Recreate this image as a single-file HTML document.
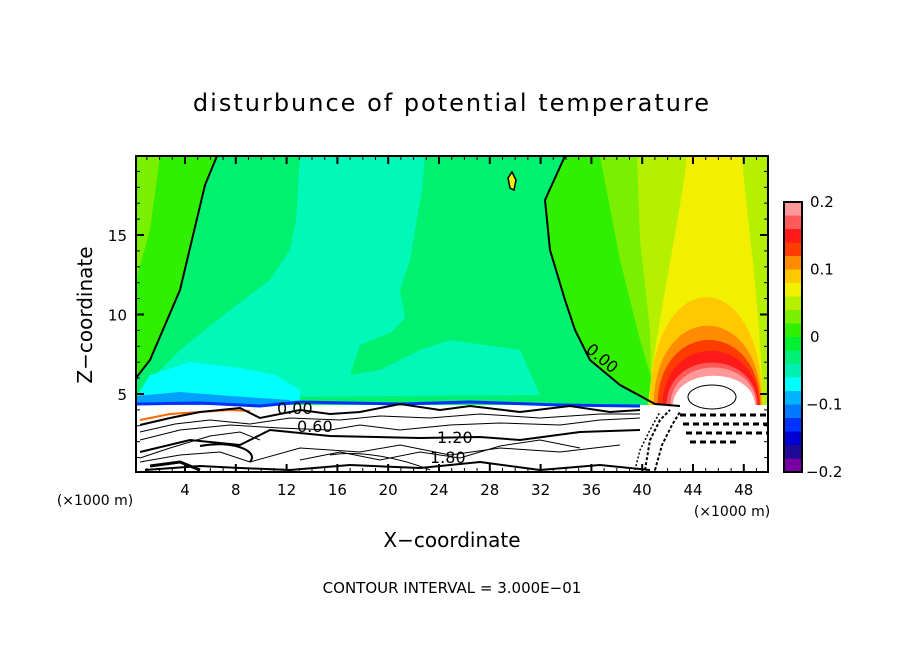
<!DOCTYPE html>
<html><head><meta charset="utf-8"><style>
body{margin:0;background:#fff;}
svg text{font-family:"DejaVu Sans","Liberation Sans",sans-serif;fill:#000;}
</style></head><body>
<svg id="c" width="904" height="654" viewBox="0 0 904 654" xmlns="http://www.w3.org/2000/svg">
<defs><clipPath id="pc"><rect x="136" y="156" width="632" height="316"/></clipPath></defs>
<text x="452" y="111" text-anchor="middle" font-size="24" letter-spacing="2">disturbunce of potential temperature</text>
<g id="plot" clip-path="url(#pc)">
<rect x="136" y="156" width="632" height="316" fill="#00f070"/>
<path d="M136 156 L217 156 L205 185 L180 290 L150 360 L136 378 Z" fill="#30f000"/>
<path d="M136 156 L160 156 L150 230 L136 280 Z" fill="#78f000"/>
<path d="M300 156 L425 156 L422 190 L410 260 L400 290 L405 318 L392 332 L360 345 L350 375 L380 370 L420 350 L450 340 L520 350 L540 395 L136 398 L150 380 L180 350 L230 310 L270 280 L290 250 L296 220 Z" fill="#00f8b8"/>
<path d="M136 398 L150 375 L190 362 L240 368 L275 375 L300 390 L300 404 L136 404 Z" fill="#00ffff"/>
<path d="M136 396 L180 392 L230 396 L290 400 L290 406 L136 406 Z" fill="#00a0ff"/>
<path d="M565 156 L545 200 L550 250 L565 300 L575 330 L590 360 L620 385 L655 407 L768 407 L768 156 Z" fill="#30f000"/>
<path d="M600 156 L620 260 L640 340 L660 407 L768 407 L768 156 Z" fill="#78f000"/>
<path d="M637 156 L640 240 L650 330 L652 407 L768 407 L768 156 Z" fill="#b4f000"/>
<path d="M648 407 C655 330 680 220 687 156 L742 156 C748 230 760 300 763 407 Z" fill="#f0f000"/>
<g id="plume"></g>
<rect x="136" y="405" width="632" height="67" fill="#fff"/>
<path d="M136 404 L200 403 L260 406 L300 402 L400 404 L470 402 L560 405 L640 406" stroke="#0030ff" stroke-width="3" fill="none"/>
<path d="M140 420 L170 414 L200 412 L230 410 L250 411" stroke="#ff6a00" stroke-width="2" fill="none"/>
<g fill="none" stroke="#000">
<path d="M140 425 L170 418 L200 412 L240 408 L260 418 L300 410 L330 414 L360 412 L400 404 L440 410 L470 406 L520 412 L570 406 L610 412 L640 410" stroke-width="2"/>
<path d="M140 432 L175 424 L210 420 L250 424 L290 418 L340 420 L380 416 L430 418 L480 414 L540 418 L600 414 L640 414" stroke-width="1"/>
<path d="M140 440 L180 430 L230 425 L280 428 L330 430 L360 425 L400 430 L450 425 L500 423 L560 425 L600 420 L640 418" stroke-width="1"/>
<path d="M140 452 L190 440 L240 445 L270 430 L330 436 L420 438 L480 437 L520 440 L580 432 L640 430" stroke-width="2"/>
<path d="M140 462 L180 455 L220 452 L250 462 L300 448 L360 452 L400 445 L450 455 L500 448 L560 452 L620 445" stroke-width="1"/>
<path d="M140 458 L170 448 L210 436 L240 432 L260 440" stroke-width="1"/>
<path d="M300 460 L340 452 L380 460 L420 452 L460 458 L500 446 L540 440 L580 448" stroke-width="1"/>
<path d="M145 470 L200 466 L240 468 L290 470 L350 465 L420 468 L480 462 L540 470 L600 465 L650 470" stroke-width="2"/>
<path d="M200 446 C230 440 260 450 250 462" stroke-width="2"/>
<path d="M330 455 C360 450 400 458 430 470" stroke-width="1"/>
<path d="M150 466 L180 462 L200 470" stroke-width="3"/>
<path d="M217 156 L205 185 L180 290 L150 360 L136 378" stroke-width="2"/>
<path d="M565 156 L545 200 L550 250 L565 300 L575 330 L590 360 L620 385 L655 404 L680 406" stroke-width="2"/>
<ellipse cx="712" cy="397" rx="24" ry="12" stroke-width="1"/>
<path d="M508 178 L512 172 L516 180 L514 190 L510 188 Z" fill="#f0f000" stroke-width="1.5"/>
<path d="M645 470 L650 440 L660 420 L670 410" stroke-width="2" stroke-dasharray="3 2"/>
<path d="M655 470 L662 445 L672 425 L680 412" stroke-width="2" stroke-dasharray="3 2"/>
<path d="M635 470 L640 450 L650 430 L660 412" stroke-width="1.5" stroke-dasharray="2 2"/>
</g>
<g fill="none" stroke="#000" stroke-width="3" stroke-dasharray="6 4">
<path d="M680 415 L768 415"/><path d="M683 424 L768 424"/><path d="M686 433 L768 433"/><path d="M690 442 L740 442"/>
</g>
<g font-size="16">
<text x="277" y="414">0.00</text>
<text x="297" y="432">0.60</text>
<text x="437" y="443">1.20</text>
<text x="430" y="463">1.80</text>
<text x="585" y="351" transform="rotate(40 585 351)">0.00</text>
</g>
</g>
<rect x="136" y="156" width="632" height="316" fill="none" stroke="#000" stroke-width="2"/>
<g id="ticks"></g>
<g id="cbar"></g>
<text x="95" y="505" text-anchor="middle" font-size="14">(×1000 m)</text>
<text x="732" y="516" text-anchor="middle" font-size="14">(×1000 m)</text>
<text x="452" y="547" text-anchor="middle" font-size="20">X−coordinate</text>
<text x="92" y="315" text-anchor="middle" font-size="20" transform="rotate(-90 92 315)">Z−coordinate</text>
<text x="452" y="593" text-anchor="middle" font-size="15">CONTOUR INTERVAL = 3.000E−01</text>
</svg>
<script>
const xTickVals=[4,8,12,16,20,24,28,32,36,40,44,48];
const zTickVals=[5,10,15];
const cbColors=["#ff9999","#ff5a5a","#ff1a1a","#ff3c00","#ff8c00","#ffc800","#f0f000","#b4f000","#78f000","#30f000","#00f032","#00f078","#00f0b4","#00ffff","#00b4ff","#0078ff","#0032ff","#0000d2","#1e0a96","#7800a0"];
const cbLabels=[0.2,0.1,0,-0.1,-0.2];
const plumeColors=["#ffc800","#ff8c00","#ff3c00","#ff1a1a","#ff5a5a","#ff9999","#ffffff"];
const plumeTopZ=[13.4,11.0,9.8,8.9,7.9,7.5,6.8];
const plumeLeftX=[40.6,40.9,41.2,41.6,41.9,42.2,42.4];
const plumeRightX=[49.5,49.4,49.3,49.2,49.1,49.0,48.9];
const NS="http://www.w3.org/2000/svg";
const sx=v=>134.2+v*12.7, sz=v=>473.5-v*15.9;
const cbY=v=>472-(v+0.2)/0.4*270;
function mk(t,a,p){const e=document.createElementNS(NS,t);for(const k in a)e.setAttribute(k,a[k]);p.appendChild(e);return e;}
const pl=document.getElementById('plume'),tk=document.getElementById('ticks'),cb=document.getElementById('cbar');
const base=407;
plumeColors.forEach((c,i)=>{const L=sx(plumeLeftX[i]),R=sx(plumeRightX[i]),T=sz(plumeTopZ[i]);
const p=mk('path',{d:`M${L} ${base} C${L} ${T} ${R} ${T} ${R} ${base} Z`,fill:c},pl);

});
for(let v=1;v<50;v++){const x=sx(v),maj=v%4===0,len=maj?8:4;
const a=mk('line',{x1:x,y1:472,x2:x,y2:472-len,stroke:'#000','stroke-width':maj?2:1},tk);

const b=mk('line',{x1:x,y1:156,x2:x,y2:156+len,stroke:'#000','stroke-width':maj?2:1},tk);
}
for(let v=1;v<20;v++){const y=sz(v),maj=v%5===0,len=maj?8:4;
const a=mk('line',{x1:136,y1:y,x2:136+len,y2:y,stroke:'#000','stroke-width':maj?2:1},tk);

const b=mk('line',{x1:768,y1:y,x2:768-len,y2:y,stroke:'#000','stroke-width':maj?2:1},tk);
}
xTickVals.forEach(v=>{const t=mk('text',{x:sx(v),y:495,'text-anchor':'middle','font-size':15},tk);t.textContent=v;
});
zTickVals.forEach(v=>{const t=mk('text',{x:127,y:sz(v)+6,'text-anchor':'end','font-size':15},tk);t.textContent=v;
});
const h=270/cbColors.length;
cbColors.forEach((c,i)=>{const r=mk('rect',{x:784,y:202+i*h,width:18,height:h+0.5,fill:c},cb);
});
const fr=mk('rect',{x:784,y:202,width:18,height:270,fill:'none',stroke:'#000','stroke-width':2},cb);

cbLabels.forEach(v=>{const t=mk('text',{x:v<0?806:810,y:cbY(v)+5,'font-size':15},cb);t.textContent=v<0?'−'+Math.abs(v):String(v);
});
</script>
</body></html>
